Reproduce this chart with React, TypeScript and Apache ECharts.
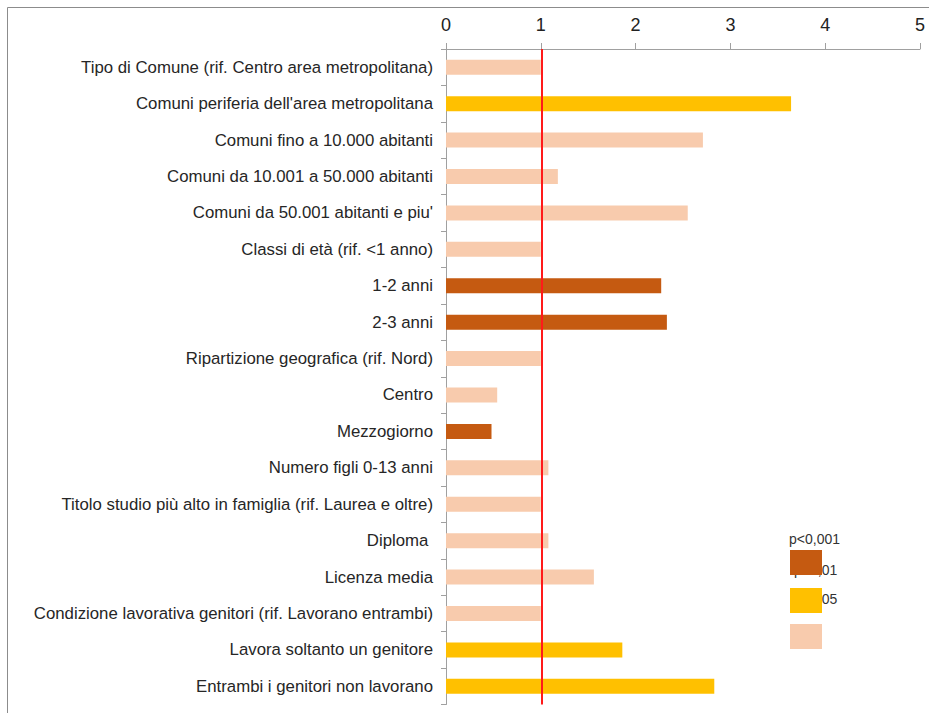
import React, { useEffect, useRef } from "react";
import * as echarts from "echarts";

const categories = [
  "Tipo di Comune (rif. Centro area metropolitana)",
  "Comuni periferia dell'area metropolitana",
  "Comuni fino a 10.000 abitanti",
  "Comuni da 10.001 a 50.000 abitanti",
  "Comuni da 50.001 abitanti e piu'",
  "Classi di età (rif. <1 anno)",
  "1-2 anni",
  "2-3 anni",
  "Ripartizione geografica (rif. Nord)",
  "Centro",
  "Mezzogiorno",
  "Numero figli 0-13 anni",
  "Titolo studio più alto in famiglia (rif. Laurea e oltre)",
  "Diploma ",
  "Licenza media",
  "Condizione lavorativa genitori (rif. Lavorano entrambi)",
  "Lavora soltanto un genitore",
  "Entrambi i genitori non lavorano",
];

const values = [1.0, 3.64, 2.71, 1.18, 2.55, 1.0, 2.27, 2.33, 1.0, 0.54, 0.48, 1.08, 1.0, 1.08, 1.56, 1.0, 1.86, 2.83];

// significance level per row: 0 = p<0,001, 1 = p<0,01, 2 = p<0,05, 3 = n.s.
const significance = [3, 2, 3, 3, 3, 3, 0, 0, 3, 3, 0, 3, 3, 3, 3, 3, 2, 2];

const levelColors = ["#C55A11", "#E46C0A", "#FFC000", "#F8CBAD"];
const legendLabels = ["p<0,001", "p<0,01", "p<0,05"];
const xTicks = [0, 1, 2, 3, 4, 5];
const referenceValue = 1;
const referenceColor = "#FF1A1A";

const FONT = "'Liberation Sans', Arial, sans-serif";

export default function App() {
  const ref = useRef<HTMLDivElement>(null);

  useEffect(() => {
    if (!ref.current) return;
    const chart = echarts.init(ref.current, undefined, { renderer: "svg" });

    const legendX = 790;
    const rectW = 32;
    const rectH = 25;
    const legendRows = [
      { rectY: 550, color: levelColors[0] },
      { rectY: 588, color: levelColors[2] },
      { rectY: 624, color: levelColors[3] },
    ];

    const graphics: any[] = [
      {
        type: "rect",
        shape: { x: 7.5, y: 7.5, width: 940, height: 720 },
        style: { fill: "none", stroke: "#8c8c8c", lineWidth: 1 },
        silent: true,
        z: 0,
      },
    ];
    legendLabels.forEach((lab, i) => {
      graphics.push({
        type: "text",
        x: i === 0 ? legendX - 1 : legendX + 4,
        y: [539, 570, 599][i],
        style: { text: lab, font: `14px ${FONT}`, fill: "#333", verticalAlign: "middle" },
        z: 10,
      });
    });
    legendRows.forEach((r) => {
      graphics.push({
        type: "rect",
        shape: { x: legendX, y: r.rectY, width: rectW, height: rectH },
        style: { fill: r.color },
        z: 20,
      });
    });

    chart.setOption({
      animation: false,
      textStyle: { fontFamily: FONT },
      grid: {
        left: 446,
        right: 9,
        top: 49,
        bottom: 8.5,
        containLabel: false,
        outerBoundsMode: "none",
      },
      xAxis: {
        type: "value",
        position: "top",
        min: xTicks[0],
        max: xTicks[xTicks.length - 1],
        interval: 1,
        axisLine: { show: true, lineStyle: { color: "#a0a0a0", width: 1 } },
        axisTick: { show: true, length: 6, lineStyle: { color: "#a0a0a0" } },
        axisLabel: { fontSize: 18, color: "#222", margin: 15, fontFamily: FONT },
        splitLine: { show: false },
      },
      yAxis: {
        type: "category",
        inverse: true,
        data: categories,
        axisLine: { show: true, lineStyle: { color: "#a0a0a0", width: 1 } },
        axisTick: { show: true, length: 5, lineStyle: { color: "#a0a0a0" } },
        axisLabel: { fontSize: 16.8, color: "#262626", margin: 13, fontFamily: FONT },
      },
      series: [
        {
          type: "bar",
          barWidth: 15,
          data: values.map((v, i) => ({
            value: v,
            itemStyle: { color: levelColors[significance[i]] },
          })),
        },
        {
          type: "custom",
          silent: true,
          z: 5,
          itemStyle: { color: referenceColor },
          data: [[referenceValue, 0]],
          encode: { x: 0, y: 1 },
          renderItem: (params: any, api: any) => {
            const pt = api.coord([api.value(0), 0]);
            const cs = params.coordSys;
            const x = Math.round(pt[0]);
            return {
              type: "rect",
              shape: { x: x, y: cs.y, width: 2, height: cs.height },
              style: { fill: referenceColor, stroke: "none" },
            };
          },
        },
      ],
      graphic: graphics,
    });

    return () => chart.dispose();
  }, []);

  return (
    <div
      ref={ref}
      style={{ position: "absolute", left: 0, top: 0, width: 929, height: 713, background: "#fff" }}
    />
  );
}
